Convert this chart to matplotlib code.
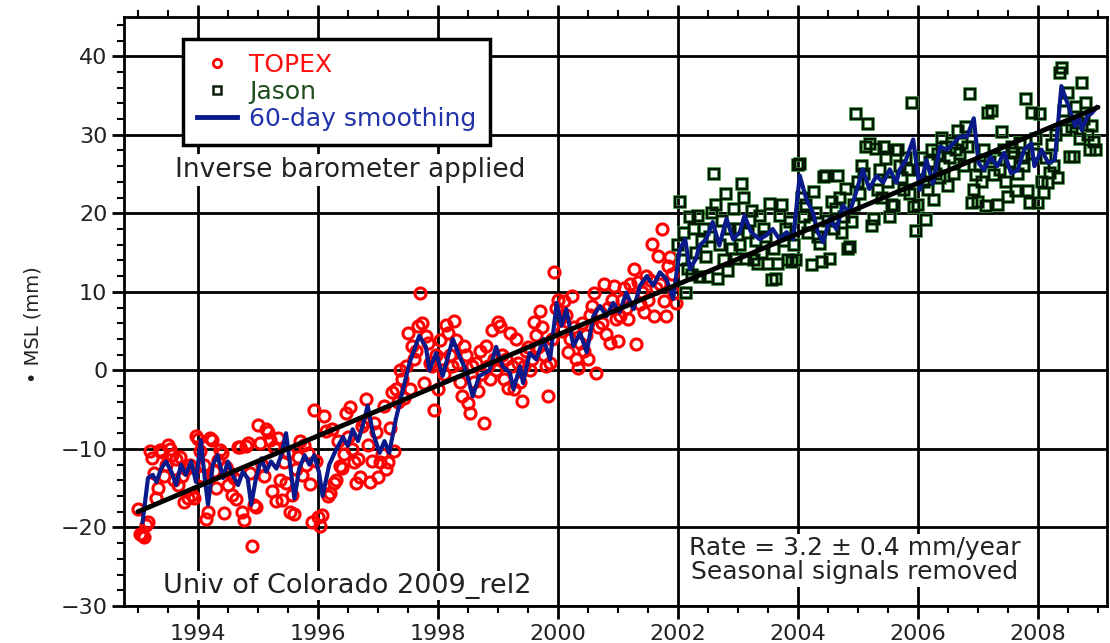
import matplotlib
matplotlib.use("Agg")
import matplotlib.pyplot as plt
import numpy as np
from matplotlib.ticker import MultipleLocator
from matplotlib.lines import Line2D

plt.rcParams['font.family'] = ['DejaVu Sans']

# ---------------- data ----------------
topex_start = 1993.0          # first TOPEX sample (decimal year)
jason_start = 2002.0          # first Jason sample
samples_per_year = 30

topex_mm = [
    # 1993
    -17.6, -20.8, -21.0, -21.2, -19.7, -19.3, -10.3, -11.2, -13.0, -16.3, -15.0, -10.1, -10.4, -13.5, -12.0,
    -9.5, -10.0, -10.8, -14.0, -11.3, -14.6, -11.0, -13.5, -16.7, -12.5, -16.3, -12.0, -15.9, -16.2, -8.4,
    # 1994
    -8.7, -10.3, -13.5, -12.0, -18.9, -18.0, -8.6, -8.9, -12.8, -15.0, -11.4, -10.1, -10.5, -18.2, -12.3,
    -14.6, -13.0, -15.9, -13.7, -16.4, -9.7, -9.8, -18.0, -19.1, -9.6, -9.3, -13.0, -22.3, -17.1, -17.4,
    # 1995
    -7.0, -9.3, -12.0, -13.5, -7.4, -7.9, -8.9, -15.4, -9.7, -16.6, -8.6, -14.0, -16.5, -11.6, -14.3,
    -10.5, -18.0, -15.9, -18.3, -12.5, -11.0, -9.0, -13.3, -9.5, -12.0, -10.5, -14.5, -19.3, -5.0, -11.5,
    # 1996
    -18.7, -19.8, -18.4, -5.8, -7.7, -16.0, -15.6, -7.5, -14.3, -13.9, -9.0, -12.2, -12.4, -10.6, -5.4,
    -8.5, -4.7, -10.0, -11.7, -14.3, -11.3, -13.6, -7.1, -6.6, -3.7, -9.5, -14.2, -11.5, -6.7, -7.9,
    # 1997
    -13.6, -11.7, -10.6, -4.5, -12.5, -11.7, -7.3, -2.8, -10.3, -2.4, -4.0, 0.1, -1.1, -3.5, 0.5,
    4.8, -2.4, 3.1, 1.5, 2.5, 5.6, 9.9, 6.0, -1.6, 4.4, 3.5, 1.0, 0.5, -5.0, 2.0,
    # 1998
    -2.4, 3.9, 1.5, -0.5, 5.8, 4.8, 2.0, 0.5, 6.3, 3.9, 1.0, -1.5, -3.3, 3.1, 2.0,
    -4.1, -5.4, 0.5, -1.5, 1.0, -2.6, 2.5, -0.5, -6.7, 3.1, 0.5, -1.1, 5.2, 1.5, 0.0,
    # 1999
    6.1, 5.6, 2.0, -1.1, 1.5, -2.2, 4.8, 0.5, -2.4, 4.0, 1.0, -1.5, -3.9, 0.5, 2.5,
    3.0, 0.1, 1.5, 6.1, 4.5, 3.0, 7.6, 5.5, 2.0, 0.5, -3.3, 1.0, 4.0, 12.5, 8.0,
    # 2000
    9.0, 6.5, 5.0, 8.9, 7.0, 2.3, 4.0, 9.5, 5.5, 1.4, 0.3, 3.5, 6.0, 2.5, 4.5,
    1.4, 7.0, 8.2, 9.9, -0.3, 5.5, 7.5, 6.0, 11.0, 4.6, 8.0, 3.5, 9.0, 10.8, 6.5,
    # 2001
    3.7, 6.9, 9.0, 10.5, 8.0, 6.5, 11.0, 9.5, 12.9, 3.3, 11.2, 8.5, 10.0, 7.5, 12.0,
    9.0, 11.5, 16.1, 6.9, 10.5, 14.6, 11.0, 18.0, 8.9, 6.9, 13.3, 14.4, 12.3, 9.9, 8.6,
]

jason_mm = [
    # 2002
    16.0, 21.4, 14.0, 17.5, 9.9, 12.9, 19.5, 12.1, 18.0, 15.0, 19.7, 11.9, 16.5, 18.0, 14.5,
    11.9, 17.0, 20.0, 25.0, 21.1, 11.7, 16.0, 19.0, 14.0, 22.5, 12.7, 18.0, 15.5, 20.5, 14.2,
    # 2003
    18.0, 16.0, 23.7, 22.0, 14.2, 17.5, 19.0, 20.3, 14.0, 16.5, 13.6, 19.7, 15.0, 18.0, 17.0,
    13.6, 21.2, 11.5, 15.5, 11.7, 13.6, 19.7, 21.0, 16.5, 18.0, 14.0, 18.9, 13.8, 16.0, 14.0,
    # 2004
    26.1, 26.3, 22.0, 19.5, 21.0, 17.5, 18.5, 13.4, 22.7, 20.0, 17.0, 16.1, 13.8, 24.6, 24.8,
    19.0, 14.2, 21.5, 18.0, 20.5, 24.8, 22.0, 17.5, 19.5, 23.1, 15.5, 15.7, 18.9, 21.0, 32.6,
    # 2005
    24.0, 22.5, 26.0, 25.0, 28.5, 31.4, 28.8, 18.4, 19.3, 28.2, 23.0, 25.5, 22.0, 28.4, 26.9,
    24.0, 19.5, 21.0, 20.9, 28.0, 28.1, 26.0, 24.5, 23.0, 27.0, 25.5, 22.5, 34.1, 20.8, 17.8,
    # 2006
    21.1, 25.5, 27.0, 24.0, 19.1, 23.0, 26.5, 28.0, 21.7, 25.0, 27.5, 24.5, 29.6, 26.0, 28.5,
    23.5, 27.0, 29.0, 25.0, 28.0, 30.5, 27.5, 29.0, 26.0, 31.0, 28.5, 35.2, 21.3, 23.0, 24.9,
    # 2007
    21.5, 26.0, 24.0, 28.0, 20.9, 32.8, 26.5, 33.0, 24.9, 27.0, 21.1, 25.5, 30.4, 28.0, 24.0,
    22.1, 26.5, 28.5, 27.7, 22.8, 25.0, 29.0, 27.0, 26.0, 34.5, 22.8, 21.3, 32.8, 27.5, 29.5,
    # 2008
    21.3, 32.6, 24.0, 22.6, 27.0, 23.8, 25.1, 28.7, 26.0, 30.0, 24.5, 37.9, 38.5, 33.0, 30.6,
    35.3, 27.2, 31.0, 27.2, 33.5, 31.5, 29.5, 36.6, 32.0, 34.0, 30.0, 28.0, 31.1, 29.1, 28.1,
]

smooth_year = [
    1993.08, 1993.17, 1993.25, 1993.31, 1993.39, 1993.47, 1993.56, 1993.64, 1993.72, 1993.80, 1993.89, 1993.97,
    1994.05, 1994.11, 1994.17, 1994.25, 1994.33, 1994.42, 1994.50, 1994.58, 1994.67, 1994.75, 1994.83, 1994.89, 1994.97,
    1995.06, 1995.14, 1995.22, 1995.31, 1995.39, 1995.47, 1995.53, 1995.61, 1995.69, 1995.78, 1995.86, 1995.94,
    1996.02, 1996.08, 1996.19, 1996.31, 1996.42, 1996.50, 1996.58, 1996.67, 1996.75, 1996.83, 1996.92,
    1997.03, 1997.11, 1997.19, 1997.30, 1997.42, 1997.53, 1997.69, 1997.80, 1997.86, 1997.97,
    1998.08, 1998.25, 1998.36, 1998.47, 1998.58, 1998.69, 1998.86, 1998.97,
    1999.08, 1999.20, 1999.26, 1999.37, 1999.42, 1999.53, 1999.64, 1999.76, 1999.87, 1999.98,
    2000.06, 2000.14, 2000.26, 2000.37, 2000.48, 2000.59, 2000.70, 2000.81, 2000.92,
    2001.03, 2001.14, 2001.26, 2001.37, 2001.48, 2001.59, 2001.70, 2001.81, 2001.92,
    2002.03, 2002.12, 2002.20, 2002.30, 2002.36, 2002.47, 2002.58, 2002.69, 2002.81, 2002.92,
    2003.03, 2003.11, 2003.22, 2003.36, 2003.47, 2003.58, 2003.69, 2003.81, 2003.92,
    2004.03, 2004.14, 2004.25, 2004.33, 2004.42, 2004.53, 2004.64, 2004.75, 2004.86, 2004.97,
    2005.08, 2005.19, 2005.31, 2005.42, 2005.53, 2005.64, 2005.69, 2005.80, 2005.92,
    2006.03, 2006.14, 2006.25, 2006.37, 2006.48, 2006.59, 2006.70, 2006.82, 2006.93,
    2007.01, 2007.10, 2007.21, 2007.32, 2007.44, 2007.55, 2007.66, 2007.77, 2007.89, 2007.94,
    2008.06, 2008.17, 2008.28, 2008.39, 2008.51, 2008.62, 2008.68, 2008.73, 2008.82, 2008.90, 2008.98,
]
smooth_mm = [
    -19.3, -13.7, -13.3, -14.2, -12.5, -11.6, -12.9, -14.6, -12.0, -13.3, -11.6, -14.2,
    -8.9, -13.3, -17.1, -12.0, -10.8, -13.7, -11.6, -13.3, -14.6, -12.9, -13.7, -17.1, -13.7,
    -11.2, -12.9, -11.6, -12.5, -10.8, -8.0, -11.6, -16.3, -12.5, -10.8, -12.0, -10.8,
    -13.0, -16.0, -12.0, -10.0, -8.5, -9.6, -7.5, -9.0, -7.0, -4.5, -8.0,
    -10.5, -9.0, -10.5, -6.2, -2.4, 1.0, 4.4, 3.0, 0.0, 2.2,
    -0.7, 4.0, 1.8, 0.0, -3.3, -0.7, 0.0, 3.0,
    0.5, -0.3, -2.4, 0.5, -1.6, 2.2, 1.4, 4.0, 1.4, 8.6,
    5.7, 7.8, 3.1, 4.8, 2.3, 6.9, 8.2, 6.9, 8.6,
    7.4, 9.9, 7.8, 10.8, 12.0, 10.8, 12.5, 11.6, 9.1,
    15.4, 16.7, 12.9, 14.2, 15.9, 16.7, 18.9, 15.9, 19.3, 16.7,
    17.6, 19.7, 17.6, 16.7, 17.2, 18.0, 16.7, 17.6, 16.7,
    24.8, 21.8, 20.1, 17.6, 16.3, 19.3, 18.0, 21.0, 20.1, 22.7,
    25.6, 23.1, 24.8, 23.9, 25.6, 23.9, 25.5, 26.8, 29.4,
    23.0, 26.8, 23.8, 28.5, 28.1, 28.9, 29.8, 29.8, 32.1,
    26.4, 25.5, 27.2, 26.0, 27.7, 25.1, 25.5, 28.1, 28.9, 26.0,
    28.1, 26.4, 26.8, 36.2, 33.6, 31.1, 32.3, 30.6, 32.3, 32.8, 33.5,
]

trend_year = [1993.0, 2009.0]
trend_mm = [-18.0, 33.5]

x_ticks = [1994, 1996, 1998, 2000, 2002, 2004, 2006, 2008]
y_ticks = [-30, -20, -10, 0, 10, 20, 30, 40]
y_ticklabels = ['\u221230', '\u221220', '\u221210', '0', '10', '20', '30', '40']

# ---------------- plot ----------------
fig = plt.figure(figsize=(11.10, 6.43), dpi=100)
ax = fig.add_axes([0.1117, 0.0575, 0.8856, 0.9161])

topex_year = topex_start + np.arange(len(topex_mm)) / samples_per_year
jason_year = jason_start + np.arange(len(jason_mm)) / samples_per_year

ax.plot(topex_year, topex_mm, linestyle='none', marker='o', markersize=8,
        markerfacecolor='none', markeredgecolor='#ff0000', markeredgewidth=2.2, zorder=3)
ax.plot(jason_year, jason_mm, linestyle='none', marker='s', markersize=7,
        markerfacecolor='none', markeredgecolor='#3a9a3a', markeredgewidth=2.6, zorder=3)
ax.plot(jason_year, jason_mm, linestyle='none', marker='s', markersize=7,
        markerfacecolor='none', markeredgecolor='#081808', markeredgewidth=1.6, zorder=3.1)
ax.plot(smooth_year, smooth_mm, color='#0a1a8a', lw=3.0, zorder=4)
ax.plot(trend_year, trend_mm, color='black', lw=3.5, zorder=5, solid_capstyle='round')

ax.set_xlim(1992.77, 2009.15)
ax.set_ylim(-30, 45)
ax.set_xticks(x_ticks)
ax.set_yticks(y_ticks)
ax.set_yticklabels(y_ticklabels)
ax.xaxis.set_minor_locator(MultipleLocator(0.5))
ax.yaxis.set_minor_locator(MultipleLocator(2))
ax.grid(True, which='major', color='black', lw=2.0, zorder=1)
ax.set_axisbelow(True)
ax.tick_params(axis='both', which='major', direction='out', length=9, width=2,
               labelsize=16, colors='black', labelcolor='#222222')
ax.tick_params(axis='both', which='minor', direction='out', length=5, width=1.5)
ax.tick_params(axis='x', which='both', top=True)
ax.tick_params(axis='x', which='major', pad=4)
ax.tick_params(axis='y', which='major', pad=3)
for s in ax.spines.values():
    s.set_linewidth(2.0)
ax.set_ylabel('\u2022 MSL (mm)', fontsize=14, color='#222222')
ax.yaxis.set_label_coords(-0.083, 0.477)

# legend
handles = [
    Line2D([], [], linestyle='none', marker='o', markersize=6, markerfacecolor='none',
           markeredgecolor='#ff0000', markeredgewidth=2),
    Line2D([], [], linestyle='none', marker='s', markersize=5.5, markerfacecolor='none',
           markeredgecolor='#0c1f0c', markeredgewidth=1.8),
    Line2D([], [], color='#0a1a8a', lw=3.5),
]
leg = ax.legend(handles, ['TOPEX', 'Jason', '60-day smoothing'], loc='upper left',
                bbox_to_anchor=(0.06, 0.962), fontsize=18, frameon=True, fancybox=False,
                handlelength=1.6, handletextpad=0.5, labelspacing=0.12, borderpad=0.55,
                borderaxespad=0)
leg.get_frame().set_edgecolor('black')
leg.get_frame().set_linewidth(2.5)
leg.get_frame().set_alpha(1)
leg.set_zorder(10)
for txt, c in zip(leg.get_texts(), ['#ff1010', '#1e4d1e', '#2233aa']):
    txt.set_color(c)

ax.text(1993.62, 25.5, 'Inverse barometer applied', fontsize=19, color='#222222',
        ha='left', va='center', zorder=9,
        bbox=dict(facecolor='white', edgecolor='none', pad=2))
ax.text(1993.42, -27.4, 'Univ of Colorado 2009_rel2', fontsize=19.5, color='#222222',
        ha='left', va='center', zorder=9,
        bbox=dict(facecolor='white', edgecolor='none', pad=1))
ax.text(2004.95, -24.2, 'Rate = 3.2 \u00b1 0.4 mm/year\nSeasonal signals removed', fontsize=18,
        color='#222222', ha='center', va='center', linespacing=1.0, zorder=9,
        bbox=dict(facecolor='white', edgecolor='none', pad=2))

fig.savefig('out.png', dpi=100)
